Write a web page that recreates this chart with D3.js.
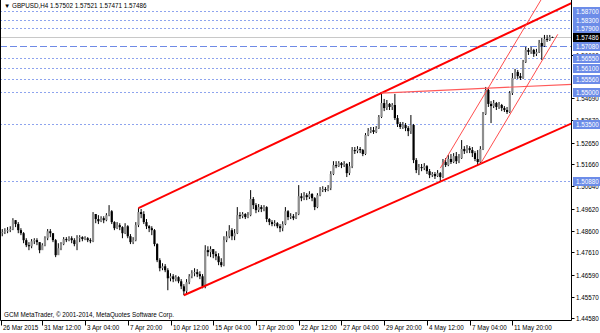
<!DOCTYPE html>
<html>
<head>
<meta charset="utf-8">
<script src="https://cdn.jsdelivr.net/npm/d3@7"></script>
<style>
  body { margin: 0; background: #fff; }
  svg { display: block; font-family: "Liberation Sans", Arial, sans-serif; }
</style>
</head>
<body>
<div id="chart"></div>
<script>
// GBPUSD H4, bar 0 = 26 Mar 2015 20:00 (open of each bar = previous close)
var firstOpen = 1.4840;
var closes = [
  1.4849,1.4854,1.4858,1.4863,1.4868,1.4909,1.4891,1.4863,1.4849,1.4817,
  1.4794,1.4789,1.4812,1.4817,1.4808,1.4771,1.4794,1.4826,1.4858,1.4849,
  1.4817,1.4748,1.4780,1.4799,1.4822,1.4817,1.4826,1.4817,1.4799,1.4826,
  1.4831,1.4822,1.4826,1.4817,1.4812,1.4937,1.4914,1.4904,1.4918,1.4909,
  1.4932,1.4950,1.4900,1.4872,1.4886,1.4877,1.4849,1.4881,1.4835,1.4808,
  1.4817,1.4886,1.4946,1.4937,1.4900,1.4881,1.4872,1.4863,1.4799,1.4725,
  1.4688,1.4697,1.4679,1.4642,1.4651,1.4638,1.4647,1.4628,1.4605,1.4582,
  1.4624,1.4651,1.4665,1.4670,1.4661,1.4651,1.4605,1.4771,1.4762,1.4776,
  1.4753,1.4743,1.4716,1.4702,1.4817,1.4835,1.4863,1.4835,1.4849,1.4932,
  1.4927,1.4937,1.4923,1.4932,1.5006,1.4978,1.4955,1.4969,1.4960,1.4969,
  1.4914,1.4900,1.4891,1.4895,1.4881,1.4872,1.4891,1.4950,1.4923,1.4927,
  1.4918,1.4937,1.5019,1.5010,1.5024,1.5015,1.5029,1.5010,1.4969,1.5024,
  1.5047,1.5052,1.5047,1.5056,1.5121,1.5162,1.5157,1.5171,1.5162,1.5167,
  1.5125,1.5157,1.5231,1.5226,1.5236,1.5231,1.5213,1.5300,1.5318,1.5323,
  1.5314,1.5332,1.5383,1.5447,1.5424,1.5443,1.5429,1.5438,1.5378,1.5351,
  1.5337,1.5346,1.5332,1.5318,1.5346,1.5185,1.5139,1.5153,1.5148,1.5157,
  1.5134,1.5116,1.5121,1.5111,1.5125,1.5107,1.5176,1.5162,1.5190,1.5176,
  1.5203,1.5180,1.5194,1.5236,1.5226,1.5240,1.5231,1.5217,1.5190,1.5176,
  1.5236,1.5397,1.5507,1.5443,1.5433,1.5447,1.5429,1.5438,1.5424,1.5415,
  1.5406,1.5493,1.5562,1.5590,1.5571,1.5562,1.5636,1.5691,1.5682,1.5691,
  1.5673,1.5682,1.5723,1.5709,1.5742,1.5737,1.5750,1.57486
];
var highs = [
  1.4863,1.4868,1.4872,1.4877,1.4881,1.4918,1.4909,1.4900,1.4872,1.4854,
  1.4826,1.4808,1.4822,1.4826,1.4826,1.4808,1.4803,1.4835,1.4868,1.4868,
  1.4849,1.4822,1.4803,1.4808,1.4831,1.4831,1.4835,1.4835,1.4826,1.4840,
  1.4840,1.4835,1.4835,1.4831,1.4826,1.4946,1.4937,1.4932,1.4927,1.4927,
  1.4941,1.4978,1.4955,1.4904,1.4900,1.4895,1.4881,1.4895,1.4886,1.4845,
  1.4831,1.4900,1.4964,1.4960,1.4950,1.4914,1.4886,1.4881,1.4868,1.4803,
  1.4734,1.4711,1.4707,1.4688,1.4665,1.4661,1.4656,1.4651,1.4638,1.4615,
  1.4638,1.4661,1.4679,1.4688,1.4684,1.4674,1.4661,1.4794,1.4789,1.4789,
  1.4776,1.4766,1.4757,1.4734,1.4835,1.4858,1.4886,1.4872,1.4868,1.4969,
  1.4946,1.4946,1.4941,1.4946,1.5047,1.5015,1.4987,1.4983,1.4978,1.4978,
  1.4973,1.4918,1.4909,1.4909,1.4900,1.4891,1.4904,1.4969,1.4955,1.4941,
  1.4937,1.4946,1.5070,1.5033,1.5038,1.5033,1.5042,1.5033,1.5015,1.5033,
  1.5061,1.5065,1.5061,1.5070,1.5134,1.5180,1.5180,1.5180,1.5176,1.5180,
  1.5171,1.5176,1.5245,1.5245,1.5249,1.5245,1.5236,1.5309,1.5332,1.5337,
  1.5337,1.5341,1.5392,1.5493,1.5466,1.5461,1.5447,1.5447,1.5489,1.5392,
  1.5360,1.5360,1.5355,1.5341,1.5392,1.5351,1.5194,1.5167,1.5167,1.5171,
  1.5162,1.5144,1.5130,1.5130,1.5139,1.5130,1.5190,1.5194,1.5208,1.5213,
  1.5217,1.5222,1.5213,1.5277,1.5249,1.5254,1.5249,1.5245,1.5226,1.5231,
  1.5249,1.5406,1.5521,1.5512,1.5456,1.5461,1.5452,1.5452,1.5443,1.5433,
  1.5429,1.5502,1.5585,1.5604,1.5599,1.5585,1.5645,1.5705,1.5700,1.5705,
  1.5696,1.5696,1.5737,1.5746,1.5760,1.5760,1.5760,1.57521
];
var lows = [
  1.4826,1.4835,1.4845,1.4849,1.4854,1.4863,1.4877,1.4849,1.4840,1.4803,
  1.4785,1.4771,1.4780,1.4799,1.4794,1.4757,1.4776,1.4789,1.4817,1.4831,
  1.4808,1.4739,1.4753,1.4771,1.4794,1.4808,1.4812,1.4803,1.4789,1.4771,
  1.4808,1.4812,1.4817,1.4808,1.4803,1.4808,1.4895,1.4891,1.4900,1.4895,
  1.4904,1.4927,1.4891,1.4863,1.4868,1.4863,1.4826,1.4845,1.4826,1.4799,
  1.4799,1.4812,1.4877,1.4918,1.4891,1.4868,1.4854,1.4840,1.4789,1.4716,
  1.4674,1.4679,1.4670,1.4587,1.4628,1.4624,1.4628,1.4619,1.4592,1.4564,
  1.4573,1.4615,1.4642,1.4651,1.4647,1.4638,1.4596,1.4596,1.4743,1.4739,
  1.4734,1.4725,1.4702,1.4693,1.4697,1.4808,1.4826,1.4817,1.4817,1.4845,
  1.4914,1.4918,1.4914,1.4918,1.4927,1.4960,1.4941,1.4946,1.4946,1.4950,
  1.4900,1.4886,1.4881,1.4881,1.4872,1.4854,1.4858,1.4886,1.4909,1.4914,
  1.4909,1.4914,1.4932,1.4996,1.5001,1.5001,1.5006,1.4996,1.4955,1.4964,
  1.5019,1.5038,1.5038,1.5042,1.5047,1.5116,1.5148,1.5153,1.5148,1.5153,
  1.5107,1.5116,1.5148,1.5213,1.5217,1.5217,1.5203,1.5208,1.5295,1.5309,
  1.5305,1.5309,1.5328,1.5378,1.5410,1.5415,1.5415,1.5415,1.5369,1.5337,
  1.5328,1.5328,1.5318,1.5295,1.5305,1.5171,1.5125,1.5116,1.5134,1.5139,
  1.5121,1.5102,1.5107,1.5098,1.5107,1.5084,1.5102,1.5153,1.5157,1.5167,
  1.5171,1.5167,1.5171,1.5190,1.5213,1.5217,1.5217,1.5199,1.5180,1.5162,
  1.5171,1.5231,1.5392,1.5429,1.5355,1.5424,1.5415,1.5420,1.5410,1.5406,
  1.5397,1.5401,1.5484,1.5558,1.5558,1.5553,1.5558,1.5631,1.5668,1.5673,
  1.5659,1.5663,1.5677,1.5645,1.5705,1.5728,1.5732,1.57471
];

// time axis: bar index and label
var timeTicks = [0, 16, 32, 48, 64, 80, 96, 112, 128, 144, 160, 176, 192];
var timeLabels = ["26 Mar 2015", "31 Mar 12:00", "3 Apr 04:00", "7 Apr 20:00", "10 Apr 12:00",
  "15 Apr 04:00", "17 Apr 20:00", "22 Apr 12:00", "27 Apr 04:00", "29 Apr 20:00",
  "4 May 12:00", "7 May 04:00", "11 May 20:00"];

// price scale labels (the ones not hidden by level boxes)
var priceTicks = ["1.44580", "1.45570", "1.46590", "1.47610", "1.48600", "1.49620", "1.50640",
  "1.51660", "1.52650", "1.53670", "1.54690", "1.56690"];

// horizontal line objects
var dotLevels = ["1.58700", "1.58300", "1.57900", "1.56550", "1.56100", "1.55560", "1.55000", "1.53500", "1.50880"];
var dashLevel = "1.57080";
var bidPrice = "1.57486";
var lastBar = {open: "1.57502", high: "1.57521", low: "1.57471", close: "1.57486"};

// trend lines: [bar, price] anchors, ray = extend to the right
var trendLines = [
  {p: [[52, 1.4964], [143, 1.5493]], ray: true, w: 2, c: "#ff0000"},
  {p: [[69, 1.4564], [165, 1.5086]], ray: true, w: 2, c: "#ff0000"},
  {p: [[143, 1.5493], [182, 1.5515]], ray: true, w: 1.2, c: "#ff5a5a"},
  {p: [[165, 1.5148], [183, 1.5517]], ray: true, w: 0.9, c: "#ff3a3a"},
  {p: [[180, 1.5167], [209, 1.5763]], ray: false, w: 0.9, c: "#ff3a3a"}
];

var W = 600, H = 333;
var plotR = 571.5, plotB = 320.5;

var svg = d3.select("#chart")
  .append("svg")
    .attr("width", W)
    .attr("height", H);

svg.append("rect").attr("width", W).attr("height", H).attr("fill", "#fff");

var x = d3.scaleLinear()
  .domain([16, 192])
  .range([42.3, 512.4]);

var y = d3.scaleLinear()
  .domain([1.4458, 1.5870])
  .range([318.3, 11]);

svg.append("clipPath")
    .attr("id", "plot")
  .append("rect")
    .attr("x", 0).attr("y", 0)
    .attr("width", plotR).attr("height", plotB);

var plot = svg.append("g").attr("clip-path", "url(#plot)");

// horizontal levels
plot.selectAll(".lvl")
  .data(dotLevels)
  .enter()
  .append("line")
    .attr("x1", 0).attr("x2", plotR)
    .attr("y1", function(d) { return Math.round(y(+d)) + 0.5; })
    .attr("y2", function(d) { return Math.round(y(+d)) + 0.5; })
    .attr("stroke", "#8ea4ee")
    .attr("stroke-width", 1)
    .attr("stroke-dasharray", "2,2");

plot.append("line")
    .attr("x1", 0).attr("x2", plotR)
    .attr("y1", Math.round(y(+dashLevel)) + 0.5)
    .attr("y2", Math.round(y(+dashLevel)) + 0.5)
    .attr("stroke", "#6f8ae6")
    .attr("stroke-width", 1)
    .attr("stroke-dasharray", "7,3");

// bid line
plot.append("line")
    .attr("x1", 0).attr("x2", plotR)
    .attr("y1", Math.round(y(+bidPrice)) + 0.5)
    .attr("y2", Math.round(y(+bidPrice)) + 0.5)
    .attr("stroke", "#c8c8c8")
    .attr("stroke-width", 1);

// candles
var bars = closes.map(function(c, i) {
  return {i: i, o: i == 0 ? firstOpen : closes[i - 1], h: highs[i], l: lows[i], c: c};
});
bars[bars.length - 1].o = +lastBar.open;

var candles = plot.append("g")
  .selectAll("g")
  .data(bars)
  .enter()
  .append("g");

candles.append("line")
    .attr("x1", function(d) { return x(d.i); })
    .attr("x2", function(d) { return x(d.i); })
    .attr("y1", function(d) { return y(d.h); })
    .attr("y2", function(d) { return y(d.l); })
    .attr("stroke", "#000")
    .attr("stroke-width", 1);

candles.append("rect")
    .attr("x", function(d) { return x(d.i) - 1.1; })
    .attr("y", function(d) { return y(Math.max(d.o, d.c)); })
    .attr("width", 2.2)
    .attr("height", function(d) { return Math.max(0.8, Math.abs(y(d.o) - y(d.c))); })
    .attr("fill", function(d) { return d.c >= d.o ? "#8e8e8e" : "#000"; });

// trend lines
var lineXY = function(t) {
  var x1 = x(t.p[0][0]), y1 = y(t.p[0][1]);
  var x2 = x(t.p[1][0]), y2 = y(t.p[1][1]);
  if (t.ray) {
    var k = (y2 - y1) / (x2 - x1);
    y2 = y1 + k * (plotR + 20 - x1);
    x2 = plotR + 20;
  }
  return [x1, y1, x2, y2];
};

plot.selectAll(".trend")
  .data(trendLines)
  .enter()
  .append("line")
    .attr("x1", function(d) { return lineXY(d)[0]; })
    .attr("y1", function(d) { return lineXY(d)[1]; })
    .attr("x2", function(d) { return lineXY(d)[2]; })
    .attr("y2", function(d) { return lineXY(d)[3]; })
    .attr("stroke", function(d) { return d.c; })
    .attr("stroke-width", function(d) { return d.w; });

// frame
svg.append("path")
    .attr("d", "M0.5,0 V" + plotB + " H" + plotR + " V0")
    .attr("fill", "none")
    .attr("stroke", "#000")
    .attr("stroke-width", 1);

// price axis
var pAxis = svg.append("g");
priceTicks.forEach(function(t) {
  var py = Math.round(y(+t)) + 0.5;
  pAxis.append("line")
    .attr("x1", plotR).attr("x2", plotR + 3)
    .attr("y1", py).attr("y2", py)
    .attr("stroke", "#000");
  pAxis.append("text")
    .attr("x", plotR + 4.5)
    .attr("y", py + 2.2)
    .attr("font-size", "6.3px")
    .attr("fill", "#000")
    .text(t);
});

// level boxes
var boxes = dotLevels.concat([dashLevel]).map(function(v) { return {v: v, bg: "#6c8ce8"}; });
boxes.push({v: bidPrice, bg: "#000"});

var boxG = svg.append("g")
  .selectAll("g")
  .data(boxes)
  .enter()
  .append("g")
    .attr("transform", function(d) { return "translate(0," + (Math.round(y(+d.v)) + 0.5) + ")"; });

boxG.append("rect")
    .attr("x", plotR + 1.5)
    .attr("y", -4.5)
    .attr("width", 30)
    .attr("height", 9)
    .attr("fill", function(d) { return d.bg; });

boxG.append("text")
    .attr("x", plotR + 4.5)
    .attr("y", 2.2)
    .attr("font-size", "6.3px")
    .attr("fill", "#fff")
    .text(function(d) { return d.v; });

// time axis
var tAxis = svg.append("g");
timeTicks.forEach(function(b, i) {
  var tx = Math.max(1.5, Math.round(x(b)) + 0.5);
  tAxis.append("line")
    .attr("x1", tx).attr("x2", tx)
    .attr("y1", plotB).attr("y2", plotB + 5)
    .attr("stroke", "#000");
  tAxis.append("text")
    .attr("x", tx + 1.5)
    .attr("y", 330)
    .attr("font-size", "6.3px")
    .attr("fill", "#000")
    .text(timeLabels[i]);
});

// header and footer
svg.append("text")
    .attr("x", 4)
    .attr("y", 8)
    .attr("font-size", "6.3px")
    .attr("fill", "#000")
    .text("\u25BC GBPUSD,H4 " + lastBar.open + " " + lastBar.high + " " + lastBar.low + " " + lastBar.close);

svg.append("text")
    .attr("x", 4)
    .attr("y", 317)
    .attr("font-size", "6.3px")
    .attr("fill", "#000")
    .text("GCM MetaTrader, \u00A9 2001-2014, MetaQuotes Software Corp.");
</script>
</body>
</html>
